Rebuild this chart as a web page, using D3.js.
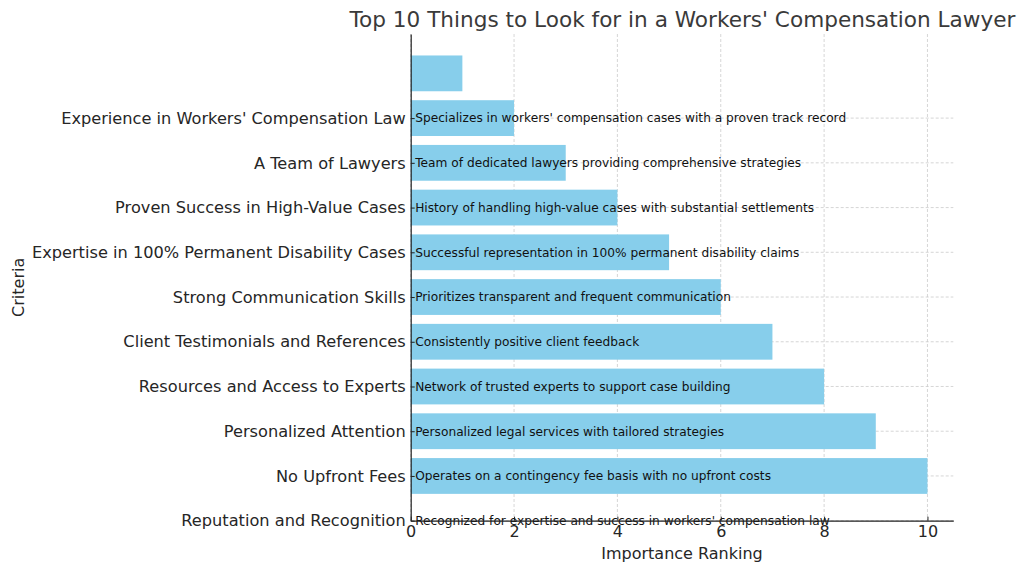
<!DOCTYPE html>
<html><head><meta charset="utf-8">
<script src="https://cdn.jsdelivr.net/npm/d3@7"></script>
<style>
html,body{margin:0;padding:0;background:#fff;}
svg{display:block;font-family:"DejaVu Sans",sans-serif;}
</style></head>
<body>
<svg id="chart" width="1024" height="573"></svg>
<script>
// Data (bottom to top)
const positions = [0,1,2,3,4,5,6,7,8,9,10];
const criteria = [
  "Reputation and Recognition",
  "No Upfront Fees",
  "Personalized Attention",
  "Resources and Access to Experts",
  "Client Testimonials and References",
  "Strong Communication Skills",
  "Expertise in 100% Permanent Disability Cases",
  "Proven Success in High-Value Cases",
  "A Team of Lawyers",
  "Experience in Workers' Compensation Law"
];
const ranking = [0,10,9,8,7,6,5,4,3,2,1];
const descriptions = [
  "Recognized for expertise and success in workers' compensation law",
  "Operates on a contingency fee basis with no upfront costs",
  "Personalized legal services with tailored strategies",
  "Network of trusted experts to support case building",
  "Consistently positive client feedback",
  "Prioritizes transparent and frequent communication",
  "Successful representation in 100% permanent disability claims",
  "History of handling high-value cases with substantial settlements",
  "Team of dedicated lawyers providing comprehensive strategies",
  "Specializes in workers' compensation cases with a proven track record"
];
const xTicks = [0,2,4,6,8,10];
const titleText = "Top 10 Things to Look for in a Workers' Compensation Lawyer";
const xLabel = "Importance Ranking";
const yLabel = "Criteria";

(function(){
const svg = d3.select("#chart");
const mLeft = 410.7, mRight = 953.3, mTop = 34, mBottom = 520.7;
const x = d3.scaleLinear().domain([0, 10.5]).range([mLeft, mRight]);
const y = d3.scaleLinear().domain([0, 10.88]).range([mBottom, mTop]);
const barH = y(0) - y(0.8);

// grid
const grid = svg.append("g").attr("stroke", "#cccccc").attr("stroke-width", 0.8).attr("stroke-dasharray", "3,2");
grid.selectAll("line.v").data(xTicks).join("line").attr("class","v")
  .attr("x1", d => x(d)).attr("x2", d => x(d)).attr("y1", mTop).attr("y2", mBottom);
grid.selectAll("line.h").data(criteria.map((c,i)=>i)).join("line").attr("class","h")
  .attr("x1", mLeft).attr("x2", mRight).attr("y1", d => y(d)).attr("y2", d => y(d));

// bars
svg.append("g").selectAll("rect").data(positions).join("rect")
  .attr("x", x(0))
  .attr("y", d => y(d) - barH/2)
  .attr("width", d => x(ranking[d]) - x(0))
  .attr("height", barH)
  .attr("fill", "#87ceeb");

// annotations
svg.append("g").selectAll("text").data(descriptions).join("text")
  .attr("x", x(0) + 4.5)
  .attr("y", (d,i) => y(i))
  .attr("dy", "0.36em")
  .attr("font-size", 12.2)
  .attr("fill", "#111")
  .text(d => d);

// y axis
const yAxis = d3.axisLeft(y).tickValues(criteria.map((c,i)=>i))
  .tickFormat(i => criteria[i]).tickSizeInner(-4).tickSizeOuter(0).tickPadding(5);
const gy = svg.append("g").attr("transform", `translate(${mLeft},0)`).call(yAxis);
gy.select(".domain").attr("stroke", "#222").attr("stroke-width", 1.2);
gy.selectAll(".tick line").attr("stroke", "#222");
gy.selectAll(".tick text").attr("font-size", 16.2).attr("fill", "#262626")
  .attr("font-family", "DejaVu Sans");

// x axis
const xAxis = d3.axisBottom(x).tickValues(xTicks).tickFormat(d3.format("d"))
  .tickSizeInner(-4).tickSizeOuter(0).tickPadding(5);
const gx = svg.append("g").attr("transform", `translate(0,${mBottom})`).call(xAxis);
gx.select(".domain").attr("stroke", "#222").attr("stroke-width", 1.2);
gx.selectAll(".tick line").attr("stroke", "#222");
gx.selectAll(".tick text").attr("font-size", 16).attr("fill", "#262626")
  .attr("font-family", "DejaVu Sans");

// title & labels
svg.append("text").attr("x", (mLeft+mRight)/2 + 0.5).attr("y", 26.7)
  .attr("text-anchor", "middle").attr("font-size", 21.6).attr("fill", "#3a3a3a")
  .text(titleText);
svg.append("text").attr("x", (mLeft+mRight)/2).attr("y", 559)
  .attr("text-anchor", "middle").attr("font-size", 16).attr("fill", "#262626")
  .text(xLabel);
svg.append("text").attr("transform", `translate(24,${(mTop+mBottom)/2 + 10}) rotate(-90)`)
  .attr("text-anchor", "middle").attr("font-size", 16).attr("fill", "#262626")
  .text(yLabel);
})();
</script>
</body></html>
